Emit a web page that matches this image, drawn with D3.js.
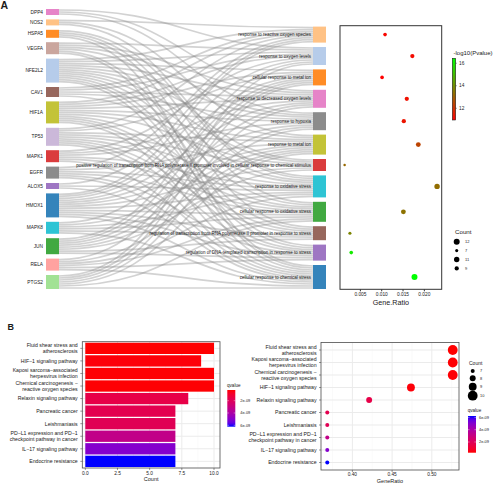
<!DOCTYPE html>
<html><head><meta charset="utf-8">
<script src="https://cdn.jsdelivr.net/npm/d3@7"></script>
<style>body{margin:0;background:#fff}svg{display:block}text{font-family:"Liberation Sans",Arial,sans-serif;fill:#1a1a1a}</style>
</head><body><svg id="c" width="500" height="483"></svg>
<script>
// ---------------- DATA ----------------
const genes = ["DPP4","NOS2","HSPA5","VEGFA","NFE2L2","CAV1","HIF1A","TP53","MAPK1","EGFR","ALOX5","HMOX1","MAPK8","JUN","RELA","PTGS2"];
const terms = ["response to reactive oxygen species","response to oxygen levels","cellular response to metal ion","response to decreased oxygen levels","response to hypoxia","response to metal ion","positive regulation of transcription from RNA polymerase II promoter involved in cellular response to chemical stimulus","response to oxidative stress","cellular response to oxidative stress","regulation of transcription from RNA polymerase II promoter in response to stress","regulation of DNA-templated transcription in response to stress","cellular response to chemical stress"];
// term indices linked from each gene
const geneTerms = [
  [1,3,4],[0,5,7],[7,8,9,11],[1,3,4,6,10,11],[0,1,2,3,4,5,6,7,8,9,10,11],[0,1,3,4,7],
  [0,1,2,3,4,5,6,8,9,10,11],[0,2,5,6,7,8,9,10,11],[1,3,4,7,8,11],[0,5,7,8,10,11],[0,7,11],
  [0,1,2,3,4,5,6,7,8,9,10,11],[2,5,7,8,9,11],[1,2,3,4,5,6,9,10],[2,5,7,8,10,11],[1,2,3,4,5,8,11]
];
const termGeneRatio = [0.0109,0.0173,0.0102,0.0160,0.0153,0.0187,0.00142,0.0231,0.0152,0.00266,0.00297,0.0178];
const termLogP = [11.1,11.2,10.96,11.3,11.4,12.4,13.2,13.3,13.4,13.8,16.0,16.44];
const gRatioTicks = [0.005,0.010,0.015,0.020];
const logPTicks = [12,14,16];
const countLegendA = [12,7,11,9];

const pathways = ["Fluid shear stress and\natherosclerosis","HIF−1 signaling pathway","Kaposi sarcoma−associated\nherpesvirus infection","Chemical carcinogenesis −\nreactive oxygen species","Relaxin signaling pathway","Pancreatic cancer","Leishmaniasis","PD−L1 expression and PD−1\ncheckpoint pathway in cancer","IL−17 signaling pathway","Endocrine resistance"];
const pathCount = [10,9,10,10,8,7,7,7,7,7];
const pathRatio = [0.5263,0.4737,0.5263,0.5263,0.4211,0.3684,0.3684,0.3684,0.3684,0.3684];
const pathQ = [0.26e-9,0.35e-9,0.30e-9,0.30e-9,1.57e-9,1.75e-9,1.87e-9,3.25e-9,5.0e-9,6.23e-9];
const dotOrder = [0,2,3,1,4,5,6,7,8,9];
const countTicks = [0,2.5,5,7.5,10];
const ratioTicks = [0.40,0.45,0.50];
const qTicks = [2e-9,4e-9,6e-9];
const countLegendB = [7,8,9,10];

// ---------------- STYLE ----------------
const geneColors = ["#e377c2","#ffbb78","#ff7f0e","#c49c94","#aec7e8","#8c564b","#bcbd22","#c5b0d5","#d62728","#7f7f7f","#9467bd","#1f77b4","#17becf","#2ca02c","#ff9896","#98df8a"];
const termColors = ["#ffbb78","#aec7e8","#ff7f0e","#e377c2","#7f7f7f","#bcbd22","#d62728","#17becf","#2ca02c","#8c564b","#9467bd","#1f77b4"];
const svg = d3.select("#c");
const grid = "#ebebeb", border = "#4d4d4d";

svg.append("text").attr("x",0.5).attr("y",8.6).attr("font-weight","bold").attr("font-size",10.5).text("A");
svg.append("text").attr("x",7.5).attr("y",329.6).attr("font-weight","bold").attr("font-size",9).text("B");

// ---------------- SANKEY ----------------
const nodeW = 13, xL = 46, xR = 313, sy0 = 9, sy1 = 289, pad = 4.4;
const total = d3.sum(geneTerms, d => d.length);
const ky = (sy1 - sy0 - (genes.length - 1) * pad) / total;
let yy = sy0;
const gNodes = genes.map((g, i) => { const h = geneTerms[i].length * ky; const n = {y0: yy, y1: yy + h}; yy += h + pad; return n; });
const termCount = terms.map((t, j) => geneTerms.filter(a => a.includes(j)).length);
yy = sy1 - (d3.sum(termCount) * ky + (terms.length - 1) * pad);
const tNodes = terms.map((t, j) => { const h = termCount[j] * ky; const n = {y0: yy, y1: yy + h}; yy += h + pad; return n; });
const links = [];
geneTerms.forEach((arr, i) => arr.forEach(j => links.push({s: i, t: j})));
gNodes.forEach((n, i) => { let y = n.y0; links.filter(l => l.s === i).sort((a, b) => a.t - b.t).forEach(l => { l.ys = y + ky / 2; y += ky; }); });
tNodes.forEach((n, j) => { let y = n.y0; links.filter(l => l.t === j).sort((a, b) => a.s - b.s).forEach(l => { l.yt = y + ky / 2; y += ky; }); });
const linkH = d3.linkHorizontal();
svg.append("g").selectAll("path").data(links).join("path")
  .attr("d", l => linkH({source: [xL + nodeW, l.ys], target: [xR, l.yt]}))
  .attr("fill", "none").attr("stroke", "#8a8a8a").attr("stroke-opacity", 0.38).attr("stroke-width", ky * 0.85);
svg.append("g").selectAll("rect").data(gNodes).join("rect")
  .attr("x", xL).attr("width", nodeW).attr("y", d => d.y0).attr("height", d => d.y1 - d.y0)
  .attr("fill", (d, i) => geneColors[i]).attr("fill-opacity", 0.9);
svg.append("g").selectAll("rect").data(tNodes).join("rect")
  .attr("x", xR).attr("width", nodeW).attr("y", d => d.y0).attr("height", d => d.y1 - d.y0)
  .attr("fill", (d, i) => termColors[i]).attr("fill-opacity", 0.9);
svg.append("g").selectAll("text").data(gNodes).join("text")
  .attr("x", xL - 3).attr("y", d => (d.y0 + d.y1) / 2).attr("dy", "0.35em")
  .attr("text-anchor", "end").attr("font-size", 4.8).attr("fill", "#000").text((d, i) => genes[i]);
svg.append("g").selectAll("text").data(tNodes).join("text")
  .attr("x", xR - 2).attr("y", d => (d.y0 + d.y1) / 2).attr("dy", "0.35em")
  .attr("text-anchor", "end").attr("font-size", 4.5).attr("fill", "#000").text((d, i) => terms[i]);

// ---------------- DOT PLOT A ----------------
const pA = {x0: 340, x1: 441.7, y0: 25.7, y1: 289.3};
const gr = d3.extent(termGeneRatio), gpad = (gr[1] - gr[0]) * 0.05;
const xA = d3.scaleLinear().domain([gr[0] - gpad, gr[1] + gpad]).range([pA.x0, pA.x1]);
const lp = d3.extent(termLogP);
const colA = d3.scaleLinear().domain(lp).range(["#ff0000", "#00ff00"]).interpolate(d3.interpolateRgb);
const rA = d3.scaleLinear().domain([6, 12]).range([1.25, 3.0]);
svg.append("rect").attr("x", pA.x0).attr("y", pA.y0).attr("width", pA.x1 - pA.x0).attr("height", pA.y1 - pA.y0)
  .attr("fill", "none").attr("stroke", "#333").attr("stroke-width", 1);
svg.append("g").selectAll("circle").data(terms).join("circle")
  .attr("cx", (d, i) => xA(termGeneRatio[i])).attr("cy", (d, i) => (tNodes[i].y0 + tNodes[i].y1) / 2)
  .attr("r", (d, i) => rA(termCount[i])).attr("fill", (d, i) => colA(termLogP[i]));
const axA = svg.append("g").attr("transform", `translate(0,${pA.y1})`)
  .call(d3.axisBottom(xA).tickValues(gRatioTicks).tickFormat(d3.format(".3f")).tickSize(2).tickPadding(1.5));
axA.select(".domain").remove();
axA.selectAll("line").attr("stroke", "#333");
axA.selectAll("text").attr("font-size", 4.8).attr("fill", "#333").attr("font-family", '"Liberation Sans",Arial,sans-serif');
svg.append("text").attr("x", (pA.x0 + pA.x1) / 2).attr("y", 305.3).attr("text-anchor", "middle").attr("font-size", 7.2).text("Gene.Ratio");

// colorbar A
const defs = svg.append("defs");
const gA = defs.append("linearGradient").attr("id", "gA").attr("x1", 0).attr("x2", 0).attr("y1", 1).attr("y2", 0);
d3.range(0, 1.001, 0.1).forEach(t => gA.append("stop").attr("offset", t).attr("stop-color", colA(lp[0] + t * (lp[1] - lp[0]))));
const cbA = {x: 452.3, w: 3.4, y0: 58.3, y1: 120};
const cyA = d3.scaleLinear().domain(lp).range([cbA.y1, cbA.y0]);
svg.append("text").attr("x", 453.5).attr("y", 55.3).attr("font-size", 6).text("-log10(Pvalue)");
svg.append("rect").attr("x", cbA.x).attr("y", cbA.y0).attr("width", cbA.w).attr("height", cbA.y1 - cbA.y0)
  .attr("fill", "url(#gA)").attr("stroke", "#222").attr("stroke-width", 0.6);
logPTicks.forEach(v => {
  svg.append("line").attr("x1", cbA.x + cbA.w).attr("x2", cbA.x + cbA.w + 1.2).attr("y1", cyA(v)).attr("y2", cyA(v)).attr("stroke", "#333").attr("stroke-width", 0.5);
  svg.append("text").attr("x", 459).attr("y", cyA(v)).attr("dy", "0.35em").attr("font-size", 4.8).text(v);
});
// count legend A
svg.append("text").attr("x", 455).attr("y", 234).attr("font-size", 6.2).text("Count");
countLegendA.forEach((v, i) => {
  const cy = 241.7 + i * 8.9;
  svg.append("circle").attr("cx", 456.7).attr("cy", cy).attr("r", rA(v)).attr("fill", "#000");
  svg.append("text").attr("x", 465).attr("y", cy).attr("dy", "0.35em").attr("font-size", 4).text(v);
});

// ---------------- B helpers ----------------
const qr = d3.extent(pathQ);
const colB = d3.scaleLinear().domain(qr).range(["#ff0000", "#0000ff"]).interpolate(d3.interpolateLab);
const qFmt = v => v.toExponential(0).replace("e-", "e-0");
function multiLabel(g, x, y, txt, fs) {
  const lines = txt.split("\n");
  const t = g.append("text").attr("x", x).attr("text-anchor", "end").attr("font-size", fs).attr("fill", "#4d4d4d");
  lines.forEach((ln, k) => t.append("tspan").attr("x", x).attr("y", y + (k - (lines.length - 1) / 2) * 6 ).attr("dy", "0.35em").text(ln));
}

// ---------------- BAR CHART B ----------------
const pB = {x0: 82.3, x1: 220, y0: 341.7, y1: 468};
const xB = d3.scaleLinear().domain([0, 10]).range([85.3, 214]);
const yB = d3.scaleBand().domain(d3.range(pathways.length)).range([pB.y0, pB.y1]).paddingInner(0.1).paddingOuter(0.08);
const gB = svg.append("g");
gB.append("rect").attr("x", pB.x0).attr("y", pB.y0).attr("width", pB.x1 - pB.x0).attr("height", pB.y1 - pB.y0).attr("fill", "#fff");
countTicks.slice(0, -1).forEach((v, i) => { const m = (v + countTicks[i + 1]) / 2;
  gB.append("line").attr("x1", xB(m)).attr("x2", xB(m)).attr("y1", pB.y0).attr("y2", pB.y1).attr("stroke", "#f4f4f4").attr("stroke-width", 0.5); });
countTicks.forEach(v => gB.append("line").attr("x1", xB(v)).attr("x2", xB(v)).attr("y1", pB.y0).attr("y2", pB.y1).attr("stroke", grid).attr("stroke-width", 1));
pathways.forEach((p, i) => gB.append("line").attr("x1", pB.x0).attr("x2", pB.x1).attr("y1", yB(i) + yB.bandwidth() / 2).attr("y2", yB(i) + yB.bandwidth() / 2).attr("stroke", grid).attr("stroke-width", 1));
gB.selectAll("rect.bar").data(pathways).join("rect").attr("class", "bar")
  .attr("x", xB(0)).attr("y", (d, i) => yB(i)).attr("width", (d, i) => xB(pathCount[i]) - xB(0)).attr("height", yB.bandwidth())
  .attr("fill", (d, i) => colB(pathQ[i]));
gB.append("rect").attr("x", pB.x0).attr("y", pB.y0).attr("width", pB.x1 - pB.x0).attr("height", pB.y1 - pB.y0)
  .attr("fill", "none").attr("stroke", border).attr("stroke-width", 0.8);
pathways.forEach((p, i) => {
  const cy = yB(i) + yB.bandwidth() / 2;
  gB.append("line").attr("x1", pB.x0 - 2).attr("x2", pB.x0).attr("y1", cy).attr("y2", cy).attr("stroke", "#333").attr("stroke-width", 0.5);
  multiLabel(gB, pB.x0 - 4.6, cy, p, 5.2);
});
countTicks.forEach(v => {
  gB.append("line").attr("x1", xB(v)).attr("x2", xB(v)).attr("y1", pB.y1).attr("y2", pB.y1 + 2).attr("stroke", "#333").attr("stroke-width", 0.5);
  gB.append("text").attr("x", xB(v)).attr("y", 475.2).attr("text-anchor", "middle").attr("font-size", 4.8).attr("fill", "#4d4d4d").text(d3.format(".1f")(v));
});
gB.append("text").attr("x", (pB.x0 + pB.x1) / 2).attr("y", 481.2).attr("text-anchor", "middle").attr("font-size", 5.5).text("Count");
// qvalue legend (reversed: low on top)
const gq1 = defs.append("linearGradient").attr("id", "gq1").attr("x1", 0).attr("x2", 0).attr("y1", 0).attr("y2", 1);
const gq2 = defs.append("linearGradient").attr("id", "gq2").attr("x1", 0).attr("x2", 0).attr("y1", 1).attr("y2", 0);
d3.range(0, 1.001, 0.1).forEach(t => { const c = colB(qr[0] + t * (qr[1] - qr[0]));
  gq1.append("stop").attr("offset", t).attr("stop-color", c); gq2.append("stop").attr("offset", t).attr("stop-color", c); });
const cb1 = {x: 227.3, w: 8, y0: 390, y1: 426.7};
const cy1 = d3.scaleLinear().domain(qr).range([cb1.y0, cb1.y1]);
gB.append("text").attr("x", 227).attr("y", 387.4).attr("font-size", 4.6).text("qvalue");
gB.append("rect").attr("x", cb1.x).attr("y", cb1.y0).attr("width", cb1.w).attr("height", cb1.y1 - cb1.y0).attr("fill", "url(#gq1)");
qTicks.forEach(v => {
  gB.append("line").attr("x1", cb1.x).attr("x2", cb1.x + 1.6).attr("y1", cy1(v)).attr("y2", cy1(v)).attr("stroke", "#fff").attr("stroke-width", 0.4);
  gB.append("line").attr("x1", cb1.x + cb1.w - 1.6).attr("x2", cb1.x + cb1.w).attr("y1", cy1(v)).attr("y2", cy1(v)).attr("stroke", "#fff").attr("stroke-width", 0.4);
  gB.append("text").attr("x", 240.3).attr("y", cy1(v)).attr("dy", "0.35em").attr("font-size", 3.9).text(qFmt(v));
});

// ---------------- DOT PLOT B ----------------
const pC = {x0: 321, x1: 459, y0: 342.5, y1: 470};
const rr = d3.extent(pathRatio), rpad = (rr[1] - rr[0]) * 0.05;
const xC = d3.scaleLinear().domain([rr[0] - rpad, rr[1] + rpad]).range([pC.x0, pC.x1]);
const yC = d3.scalePoint().domain(dotOrder).range([pC.y0, pC.y1]).padding(0.6);
const rC = d3.scaleLinear().domain([7, 10]).range([2.0, 4.9]);
const gC = svg.append("g");
const minorC = [0.375, 0.425, 0.475, 0.525];
minorC.forEach(v => gC.append("line").attr("x1", xC(v)).attr("x2", xC(v)).attr("y1", pC.y0).attr("y2", pC.y1).attr("stroke", "#f4f4f4").attr("stroke-width", 0.5));
ratioTicks.forEach(v => gC.append("line").attr("x1", xC(v)).attr("x2", xC(v)).attr("y1", pC.y0).attr("y2", pC.y1).attr("stroke", grid).attr("stroke-width", 1));
dotOrder.forEach(i => gC.append("line").attr("x1", pC.x0).attr("x2", pC.x1).attr("y1", yC(i)).attr("y2", yC(i)).attr("stroke", grid).attr("stroke-width", 1));
gC.selectAll("circle").data(dotOrder).join("circle")
  .attr("cx", i => xC(pathRatio[i])).attr("cy", i => yC(i)).attr("r", i => rC(pathCount[i])).attr("fill", i => colB(pathQ[i]));
gC.append("rect").attr("x", pC.x0).attr("y", pC.y0).attr("width", pC.x1 - pC.x0).attr("height", pC.y1 - pC.y0)
  .attr("fill", "none").attr("stroke", border).attr("stroke-width", 0.8);
dotOrder.forEach(i => {
  gC.append("line").attr("x1", pC.x0 - 2).attr("x2", pC.x0).attr("y1", yC(i)).attr("y2", yC(i)).attr("stroke", "#333").attr("stroke-width", 0.5);
  multiLabel(gC, pC.x0 - 4.4, yC(i), pathways[i], 5.2);
});
ratioTicks.forEach(v => {
  gC.append("line").attr("x1", xC(v)).attr("x2", xC(v)).attr("y1", pC.y1).attr("y2", pC.y1 + 2).attr("stroke", "#333").attr("stroke-width", 0.5);
  gC.append("text").attr("x", xC(v)).attr("y", 476.2).attr("text-anchor", "middle").attr("font-size", 4.8).attr("fill", "#4d4d4d").text(d3.format(".2f")(v));
});
gC.append("text").attr("x", (pC.x0 + pC.x1) / 2).attr("y", 482.6).attr("text-anchor", "middle").attr("font-size", 5.5).text("GeneRatio");
// count legend B
gC.append("text").attr("x", 469).attr("y", 364.6).attr("font-size", 5).text("Count");
const cyL = [371, 378.3, 386.7, 395.7];
countLegendB.forEach((v, k) => {
  gC.append("circle").attr("cx", 472.7).attr("cy", cyL[k]).attr("r", rC(v)).attr("fill", "#000");
  gC.append("text").attr("x", 480).attr("y", cyL[k]).attr("dy", "0.35em").attr("font-size", 3.9).text(v);
});
// qvalue legend B right (high on top)
const cb2 = {x: 468, w: 8, y0: 416, y1: 452.7};
const cy2 = d3.scaleLinear().domain(qr).range([cb2.y1, cb2.y0]);
gC.append("text").attr("x", 467.7).attr("y", 412.4).attr("font-size", 4.6).text("qvalue");
gC.append("rect").attr("x", cb2.x).attr("y", cb2.y0).attr("width", cb2.w).attr("height", cb2.y1 - cb2.y0).attr("fill", "url(#gq2)");
qTicks.forEach(v => {
  gC.append("line").attr("x1", cb2.x).attr("x2", cb2.x + 1.6).attr("y1", cy2(v)).attr("y2", cy2(v)).attr("stroke", "#fff").attr("stroke-width", 0.4);
  gC.append("line").attr("x1", cb2.x + cb2.w - 1.6).attr("x2", cb2.x + cb2.w).attr("y1", cy2(v)).attr("y2", cy2(v)).attr("stroke", "#fff").attr("stroke-width", 0.4);
  gC.append("text").attr("x", 479).attr("y", cy2(v)).attr("dy", "0.35em").attr("font-size", 3.9).text(qFmt(v));
});
</script></body></html>
